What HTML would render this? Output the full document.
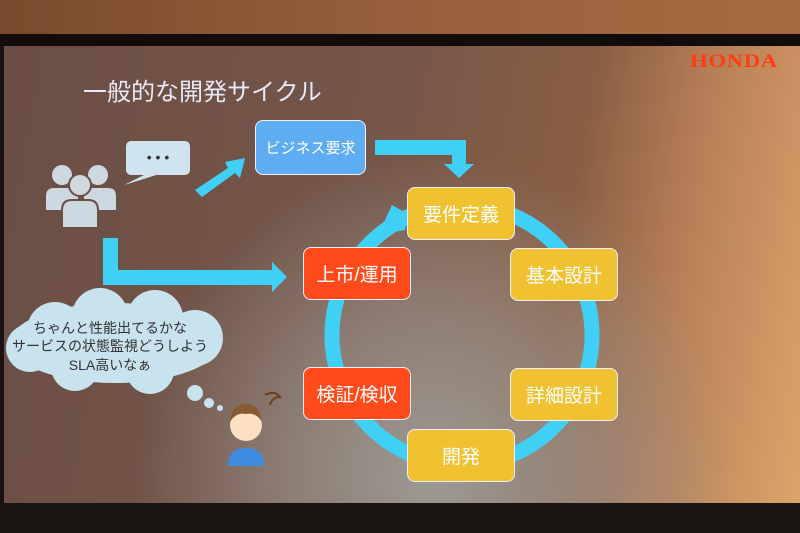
<!DOCTYPE html>
<html><head><meta charset="utf-8"><style>
html,body{margin:0;padding:0;width:800px;height:533px;overflow:hidden;background:#1a1210;font-family:"Liberation Sans","Noto Sans CJK JP",sans-serif;}
.wall{position:absolute;left:0;top:0;width:800px;height:34px;background:linear-gradient(90deg,#7a4a2e,#96603c 50%,#a86a40);}
.bar{position:absolute;left:0;top:34px;width:800px;height:12px;background:#120c0a;}
.slide{position:absolute;left:4px;top:46px;width:796px;height:457px;
background:radial-gradient(ellipse 300px 320px at 430px 430px,#9c9a94 0%,rgba(150,142,134,0.7) 50%,rgba(120,90,75,0) 100%),
linear-gradient(100deg,#6b4e44 0%,#75564a 45%,#8a5e44 68%,#b88058 82%,#dca46a 100%);}
.bot{position:absolute;left:0;top:503px;width:800px;height:30px;background:#1a1412;}
.box{position:absolute;width:108px;height:53px;border:1.5px solid #f0eef8;border-radius:8px;color:#fff;font-size:19px;display:flex;align-items:center;justify-content:center;box-sizing:border-box;}
.y{background:#f0c232;}.r{background:#ff4a1c;}
</style></head><body>
<div class="wall"></div><div class="bar"></div>
<div class="slide"></div>
<div class="bot"></div>
<div style="position:absolute;left:83px;top:72px;color:#e8eaf8;font-size:24px;">一般的な開発サイクル</div>
<div style="position:absolute;left:690px;top:51px;color:#ff3c14;font-family:'Liberation Serif',serif;font-weight:bold;font-size:19px;letter-spacing:0.5px;transform:scaleX(1.2);transform-origin:left">HONDA</div>
<svg style="position:absolute;left:0;top:0" width="800" height="533">
<circle cx="462" cy="335" r="130" fill="none" stroke="#40d0f6" stroke-width="15"/>
<polygon points="378,235 392,205 408,214 405,230" fill="#40d0f6"/>
<polygon points="375,140 466,140 466,164 474,164 459,178 444,164 452,164 452,155 375,155" fill="#40d0f6"/>
<polygon points="195,190 228,168 225,162 245,158 240,178 235,173 202,197" fill="#40d0f6"/>
<polygon points="103,238 118,238 118,270 272,270 272,262 287,277 272,292 272,285 103,285" fill="#40d0f6"/>
<rect x="126" y="141" width="64" height="34" rx="5" fill="#cfe4ee"/>
<polygon points="150,172 166,172 124,185" fill="#cfe4ee"/>
<text x="158" y="162" fill="#333" font-size="14" text-anchor="middle">• • •</text>
<g fill="#cdd8e0">
<circle cx="62" cy="175" r="10"/><circle cx="98" cy="175" r="10"/>
<path d="M46 210 v-14 q0-8 8-8 h16 q8 0 8 8 v14z"/><path d="M84 210 v-14 q0-8 8-8 h16 q8 0 8 8 v14z"/>
<circle cx="80" cy="185" r="11" stroke="#6b4e44" stroke-width="2"/>
<path d="M62 228 v-18 q0-10 10-10 h16 q10 0 10 10 v18z" stroke="#6b4e44" stroke-width="2"/>
</g>
<g fill="#c8e2ee">
<ellipse cx="115" cy="343" rx="105" ry="40"/>
<circle cx="55" cy="330" r="28"/><circle cx="100" cy="316" r="28"/><circle cx="155" cy="318" r="28"/><circle cx="195" cy="338" r="28"/><circle cx="150" cy="370" r="24"/><circle cx="75" cy="367" r="24"/><circle cx="30" cy="348" r="24"/>
<circle cx="195" cy="393" r="8"/><circle cx="209" cy="403" r="5"/><circle cx="220" cy="408" r="3"/>
</g>
<text fill="#333" font-size="14" text-anchor="middle"><tspan x="110" y="333">ちゃんと性能出てるかな</tspan><tspan x="110" y="351">サービスの状態監視どうしよう</tspan><tspan x="110" y="370">SLA高いなぁ</tspan></text>
<path d="M228 466 q0-18 18-18 q18 0 18 18z" fill="#3d8ce0"/>
<circle cx="246" cy="425" r="16" fill="#fbe0c4"/>
<path d="M230 422 q2-18 16-18 q14 0 16 18 q-6-10-16-8 q-10-2-16 8z" fill="#8a5a30"/>
<path d="M265 395 q10-5 15 2 q-8 0-10 8" stroke="#6a4020" fill="none" stroke-width="2"/>
</svg>
<div class="box" style="left:255px;top:120px;width:111px;height:55px;background:#5eacf2;font-size:15px">ビジネス要求</div>
<div class="box y" style="left:407px;top:187px;">要件定義</div>
<div class="box y" style="left:510px;top:248px;">基本設計</div>
<div class="box y" style="left:510px;top:368px;">詳細設計</div>
<div class="box y" style="left:407px;top:429px;">開発</div>
<div class="box r" style="left:303px;top:367px;">検証/検収</div>
<div class="box r" style="left:303px;top:247px;">上市/運用</div>
</body></html>
